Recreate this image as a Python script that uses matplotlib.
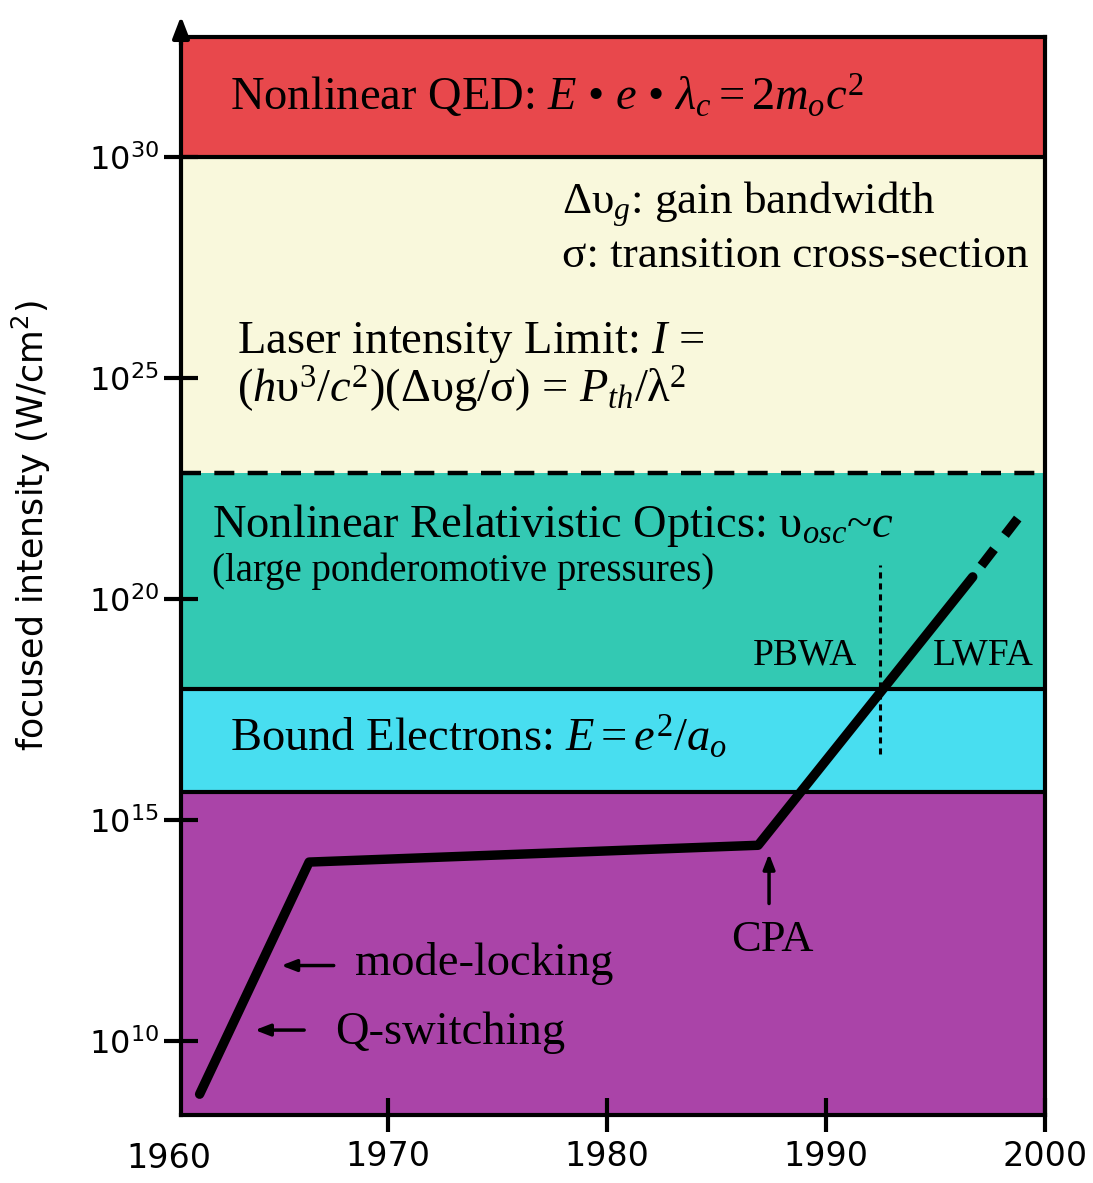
import numpy as np
import matplotlib
matplotlib.use("Agg")
import matplotlib.pyplot as plt

plt.rcParams['font.family'] = ['DejaVu Sans']
plt.rcParams['mathtext.fontset'] = 'custom'
plt.rcParams['mathtext.rm'] = 'Liberation Serif'
plt.rcParams['mathtext.it'] = 'Liberation Serif:italic'
plt.rcParams['mathtext.bf'] = 'Liberation Serif:bold'

# ---- data ----
years = [1961.4, 1966.4, 1986.9, 1996.7]
log_intensity = [8.8, 14.05, 14.43, 20.5]
proj_years = [1996.7, 1998.8]
proj_log_intensity = [20.5, 21.85]

band_edges = [8.33, 15.63, 17.96, 22.85, 30.0, 32.71]   # log10 intensity
band_colors = ['#AA44A8', '#48DEF0', '#33C9B3', '#F9F8DC', '#E8484C']

xticks = [1970, 1980, 1990, 2000]
xticklabels = ['1970', '1980', '1990', '2000']
ytick_exps = [10, 15, 20, 25, 30]

serif = 'Liberation Serif'

fig = plt.figure(figsize=(10.93, 11.83), dpi=100)
ax = fig.add_axes([0.1656, 0.0575, 0.7905, 0.9112])
ax.set_yscale('log')
ax.set_xlim(1960.55, 2000)
ax.set_ylim(10**band_edges[0], 10**band_edges[-1])

for lo, hi, c in zip(band_edges[:-1], band_edges[1:], band_colors):
    ax.axhspan(10**lo, 10**hi, color=c, zorder=0, lw=0)

# band boundaries
ax.axhline(10**band_edges[1], color='black', lw=3, zorder=2)
ax.axhline(10**band_edges[2], color='black', lw=3, zorder=2)
ax.axhline(10**band_edges[3], color='black', lw=3.2, ls=(0, (4.5, 3)), zorder=2)
ax.axhline(10**band_edges[4], color='black', lw=3, zorder=2)

# dotted vertical divider PBWA / LWFA
ax.plot([1992.47, 1992.47], [10**16.5, 10**20.77], color='black', lw=2.2,
        ls=(0, (2, 1.6)), zorder=3)

# main curve
ax.plot(years, 10**np.array(log_intensity), color='black', lw=6.8,
        solid_joinstyle='round', solid_capstyle='round', zorder=4)
ax.plot(proj_years, 10**np.array(proj_log_intensity), color='black', lw=6.8,
        ls=(2.6, (2.2, 1.9)), dash_capstyle='butt', zorder=4)

fs = 33.5
def T(x, y, s, size=fs, ha='left'):
    ax.text(x, 10**y, s, fontsize=size, family=serif, ha=ha, va='center', zorder=5)

T(1962.79, 31.36, r"Nonlinear QED: $E$ • $e$ • $\lambda_c = 2m_o c^2$")
T(1977.95, 28.93, r"Δυ$_g$: gain bandwidth", size=32.5)
T(1977.95, 27.76, r"σ: transition cross-section", size=32.5)
T(1963.1, 25.81, r"Laser intensity Limit: $I$ =")
T(1963.1, 24.73, r"($h$υ$^3$/$c^2$)(Δυg/σ) = $P_{th}$/λ$^2$")
T(1961.96, 21.67, r"Nonlinear Relativistic Optics: υ$_{osc}$~$c$")
T(1961.96, 20.62, "(large ponderomotive pressures)", size=28)
T(1991.42, 18.73, "PBWA", size=27, ha='right')
T(1994.89, 18.73, "LWFA", size=27)
T(1962.79, 16.86, r"Bound Electrons: $E = e^2/a_o$")
T(1987.53, 12.29, "CPA", size=32, ha='center')
T(1968.49, 11.76, "mode-locking")
T(1967.58, 10.18, "Q-switching")

arrow_kw = dict(arrowstyle='-|>,head_length=0.9,head_width=0.35', color='black', lw=2.5)
ax.annotate('', xy=(1987.4, 10**14.3), xytext=(1987.4, 10**13.05), arrowprops=arrow_kw, zorder=5)
ax.annotate('', xy=(1965.0, 10**11.71), xytext=(1967.65, 10**11.71), arrowprops=arrow_kw, zorder=5)
ax.annotate('', xy=(1963.8, 10**10.25), xytext=(1966.3, 10**10.25), arrowprops=arrow_kw, zorder=5)

# axes styling
for sp in ax.spines.values():
    sp.set_linewidth(3)
    sp.set_zorder(6)
ax.set_xticks(xticks)
ax.set_xticklabels(xticklabels)
ax.set_yticks([10.0**e for e in ytick_exps])
ax.set_yticklabels([r"$\mathdefault{10^{%d}}$" % e for e in ytick_exps])
ax.minorticks_off()
ax.tick_params(axis='both', direction='inout', length=24, width=3, labelsize=23, pad=4)
ax.tick_params(axis='x', labelsize=24, pad=6)
ax.text(1960.0, 10**band_edges[0] / 10**0.62, '1960', fontsize=24,
        ha='center', va='top', clip_on=False)

ax.set_ylabel(r"focused intensity (W/cm$\mathdefault{^2}$)", fontsize=25)
ax.yaxis.set_label_coords(-0.148, 0.547)

# arrow at top of y axis
ax.annotate('', xy=(0, 1.022), xytext=(0, 0.99), xycoords='axes fraction',
            arrowprops=dict(arrowstyle='-|>,head_length=1.3,head_width=0.5', color='black', lw=3),
            annotation_clip=False, zorder=7)

fig.savefig('out.png', dpi=100)
